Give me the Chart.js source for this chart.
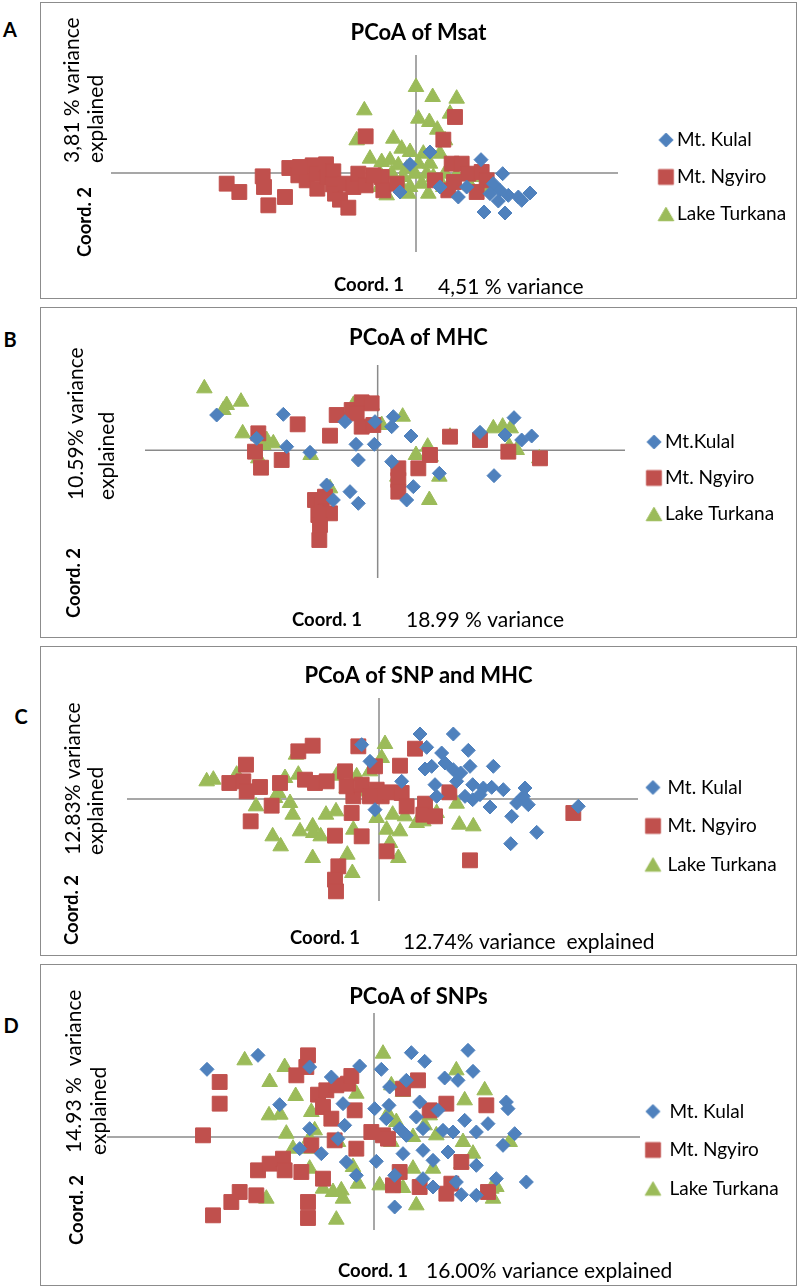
<!DOCTYPE html>
<html><head><meta charset="utf-8">
<script src="https://cdn.jsdelivr.net/npm/chart.js@4.4.1/dist/chart.umd.min.js"></script>
<style>
html,body{margin:0;padding:0;background:#fff;}
body{width:800px;height:1287px;position:relative;overflow:hidden;font-family:Lato,sans-serif;}
.frame{position:absolute;box-sizing:border-box;border:1px solid #8c8c8c;}
canvas{position:absolute;}
.letter{position:absolute;font:bold 20px Lato,sans-serif;color:#000;transform:translate(-50%,-50%);line-height:1;}
</style></head><body>
<script>
// ---------------- DATA ----------------
const panelLetters = ['A', 'B', 'C', 'D'];
const panelTitles = ['PCoA of Msat', 'PCoA of MHC', 'PCoA of SNP and MHC', 'PCoA of SNPs'];
const legendNames = [
  ['Mt. Kulal', 'Mt. Ngyiro', 'Lake Turkana'],
  ['Mt.Kulal', 'Mt. Ngyiro', 'Lake Turkana'],
  ['Mt. Kulal', 'Mt. Ngyiro', 'Lake Turkana'],
  ['Mt. Kulal', 'Mt. Ngyiro', 'Lake Turkana']
];
const yAxisTexts = [['3,81 % variance', 'explained'], ['10.59% variance', 'explained'], ['12.83% variance', 'explained'], ['14.93 %  variance', 'explained']];
const yAxisNames = ['Coord. 2', 'Coord. 2', 'Coord. 2', 'Coord. 2'];
const xAxisNames = ['Coord. 1', 'Coord. 1', 'Coord. 1', 'Coord. 1'];
const xAxisTexts = ['4,51 % variance', '18.99 % variance', '12.74% variance  explained', '16.00% variance explained'];

const xRanges = [[-9.15, 6.06], [-6.98, 7.42], [-7.56, 7.77], [-8.01, 7.98]];
const yRanges = [[-2.37, 3.54], [-3.83, 2.56], [-3.06, 3.03], [-2.79, 3.72]];

// Panel A : Msat
const msatKulal = [[1.95,0.40],[2.60,-0.02],[2.32,-0.32],[2.52,-0.52],[2.77,-0.67],[3.07,-0.72],[3.42,-0.60],[3.17,-0.82],[2.47,-0.84],[2.04,-1.17],[2.67,-1.20],[1.27,-0.72],[0.42,0.63],[-0.18,0.26],[1.52,-0.42],[2.22,-0.62],[-0.48,-0.57],[0.72,-0.42]];
const msatNgyiro = [[-5.68,-0.32],[-5.30,-0.57],[-4.60,-0.10],[-4.56,-0.42],[-4.43,-0.97],[-3.93,-0.72],[-3.80,0.15],[-3.53,-0.07],[-3.28,-0.22],[-3.10,0.23],[-2.98,-0.02],[-2.96,-0.47],[-2.70,0.26],[-2.66,-0.12],[-2.48,0.05],[-2.50,-0.34],[-2.43,-0.62],[-2.28,-0.80],[-2.03,-1.04],[-2.13,-0.32],[-1.88,-0.42],[-1.73,-0.02],[-1.51,-0.37],[-1.51,1.10],[-1.03,-0.12],[-0.98,-0.52],[-0.58,-0.32],[0.82,1.00],[1.17,1.68],[1.07,0.28],[1.37,0.28],[1.57,-0.02],[1.97,0.03],[2.12,-0.22],[1.82,-0.57],[0.97,-0.52],[0.57,-0.22],[-1.28,-0.07],[1.14,-0.27],[-3.48,0.18]];
const msatTurkana = [[0.00,2.58],[0.50,2.28],[1.22,2.23],[-1.55,1.88],[0.07,1.63],[0.40,1.53],[1.02,1.78],[0.64,1.30],[0.87,0.98],[-0.68,1.03],[-1.78,0.98],[-0.43,0.73],[-0.18,0.63],[0.22,0.58],[0.72,0.58],[-1.38,0.43],[-1.03,0.33],[-0.78,0.38],[-0.53,0.23],[-0.28,0.13],[0.07,0.28],[0.42,0.28],[-1.08,-0.02],[-0.73,-0.02],[-0.38,-0.12],[-0.03,-0.02],[0.32,-0.02],[-1.03,-0.32],[-0.48,-0.32],[-0.18,-0.42],[0.17,-0.32],[0.52,-0.12],[0.87,-0.02],[1.22,-0.07],[0.82,-0.42],[-0.88,-0.67],[-0.23,-0.62],[0.37,-0.62],[1.62,-0.37],[1.82,-0.12],[2.12,-0.42],[-1.08,-0.42]];

// Panel B : MHC
const mhcKulal = [[-4.83,1.06],[-2.83,1.08],[-3.63,0.36],[-2.73,0.11],[-2.03,-0.06],[-0.98,0.86],[-0.65,0.18],[-0.58,-0.29],[-0.10,0.18],[0.47,1.01],[0.42,0.71],[1.00,0.43],[0.42,-0.34],[1.07,-1.09],[0.87,-1.49],[1.85,-0.69],[3.07,0.54],[3.82,0.46],[4.09,0.98],[4.32,0.31],[4.62,0.43],[3.49,-0.76],[-1.53,-1.04],[-1.33,-1.49],[-0.83,-1.24],[-0.58,-1.59],[-0.08,0.86]];
const mhcNgyiro = [[-3.58,0.51],[-3.68,-0.04],[-3.50,-0.52],[-2.88,-0.29],[-2.40,0.78],[-1.43,0.44],[-1.23,1.06],[-0.78,1.21],[-0.48,1.44],[-0.18,1.41],[-0.48,0.71],[-0.13,0.76],[0.62,-0.54],[0.62,-0.89],[0.62,-1.24],[1.22,-0.54],[1.57,-0.14],[2.17,0.41],[3.07,0.31],[3.92,-0.04],[4.87,-0.24],[-1.88,-1.49],[-1.68,-1.64],[-1.43,-1.89],[-1.78,-1.94],[-1.73,-2.24],[-1.75,-2.69],[-1.58,-1.39],[-0.63,1.11]];
const mhcTurkana = [[-5.20,1.86],[-4.53,1.36],[-4.10,1.46],[-4.63,1.21],[-4.05,0.51],[-3.48,0.46],[-3.33,0.31],[-3.13,0.21],[-3.58,-0.24],[-3.43,0.16],[-2.01,-0.14],[-1.08,1.01],[-0.73,1.36],[-0.43,1.38],[-0.18,1.36],[-0.18,0.71],[0.12,0.76],[0.75,1.01],[1.15,-0.14],[1.50,0.11],[1.59,-0.19],[1.85,-0.79],[1.55,-1.49],[0.59,-0.79],[2.17,0.41],[3.47,0.66],[3.75,0.71],[3.99,0.66],[3.95,0.11],[4.17,0.01],[4.85,-0.24],[-1.43,-1.14],[-1.53,-1.24]];

// Panel C : SNP and MHC
const snpMhcKulal = [[1.23,1.95],[2.23,1.95],[1.43,1.55],[1.88,1.38],[2.68,1.46],[1.98,1.08],[1.38,0.90],[1.58,0.98],[2.23,0.88],[2.45,0.78],[2.73,0.98],[3.43,0.98],[1.68,0.43],[2.33,0.53],[2.81,0.43],[3.13,0.33],[3.38,0.35],[3.73,0.28],[4.38,0.33],[4.33,0.08],[4.13,-0.12],[4.48,-0.17],[3.98,-0.52],[3.33,-0.24],[2.81,-0.02],[2.58,0.08],[3.03,0.13],[4.73,-1.00],[3.95,-1.34],[5.98,-0.22],[0.68,0.53],[-0.12,-0.32],[-0.27,1.13],[-0.52,1.63],[1.73,0.08]];
const snpMhcNgyiro = [[-2.42,1.43],[-1.99,1.60],[-0.62,1.58],[1.08,1.51],[-3.99,1.03],[-4.49,0.48],[-4.07,0.53],[-3.97,0.23],[-3.57,0.36],[-2.97,0.48],[-3.22,-0.20],[-3.85,-0.67],[-2.22,0.58],[-1.92,0.48],[-1.57,0.53],[-1.02,0.83],[-0.77,0.08],[-0.82,-0.42],[-0.97,0.38],[-0.12,0.98],[0.63,1.00],[-0.07,0.28],[0.08,0.08],[0.33,0.20],[0.68,0.18],[0.83,-0.22],[1.38,-0.14],[1.33,-0.47],[1.68,-0.52],[2.11,0.20],[-1.32,-1.10],[-0.52,-1.12],[0.23,-1.57],[-1.22,-2.02],[-1.32,-2.42],[-1.29,-2.77],[2.73,-1.84],[5.83,-0.42],[-0.52,0.43],[-0.27,0.08]];
const snpMhcTurkana = [[-5.17,0.53],[-4.97,0.58],[-4.27,0.73],[-2.49,1.33],[0.18,1.65],[0.08,1.23],[-2.82,0.63],[-2.42,0.73],[-1.27,0.70],[-0.67,0.68],[-0.27,0.83],[-0.97,0.33],[-0.37,0.23],[-3.02,0.18],[-3.12,0.03],[-2.67,-0.12],[-2.59,-0.47],[-3.69,-0.22],[-1.59,-0.47],[-1.29,-0.37],[-2.37,-0.97],[-1.99,-0.82],[-1.97,-1.02],[-1.75,-1.12],[-3.19,-1.12],[-2.95,-1.42],[-0.77,-0.92],[-1.99,-1.77],[-0.95,-1.67],[-0.80,-2.22],[-0.07,-0.57],[0.41,-0.47],[0.78,-0.52],[1.13,-0.72],[1.33,-0.67],[1.73,-0.42],[2.33,-0.14],[2.41,-0.77],[2.83,-0.82],[0.23,-0.92],[0.63,-0.97],[0.33,-1.32],[0.58,-1.77]];

// Panel D : SNPs
const snpKulal = [[-5.01,2.03],[-3.48,2.45],[-1.93,2.10],[-1.28,1.80],[-0.43,2.13],[0.22,2.03],[1.12,2.53],[1.52,2.27],[2.82,2.60],[2.97,1.97],[2.12,1.77],[2.52,1.70],[0.97,1.70],[0.47,1.50],[1.37,1.05],[0.02,0.85],[0.45,0.95],[-2.83,0.97],[-0.93,1.00],[1.27,0.60],[1.92,0.80],[2.72,0.50],[3.42,0.40],[3.97,1.05],[4.02,0.85],[4.22,0.10],[3.07,0.15],[2.37,0.15],[2.07,0.20],[1.47,0.25],[0.97,0.05],[0.87,-0.50],[1.47,-0.40],[2.22,-0.45],[1.77,-0.70],[3.07,-0.85],[3.87,-0.25],[0.07,-0.73],[-0.88,0.35],[-0.83,-0.75],[-1.58,-0.50],[-1.93,0.25],[-2.23,-0.35],[-1.08,-0.05],[-0.53,-1.15],[1.77,-1.50],[2.47,-1.35],[2.62,-1.73],[3.07,-1.75],[3.67,-1.25],[4.57,-1.35],[0.62,-2.10],[0.62,-1.15],[1.47,-1.25],[0.37,0.55],[0.77,0.25]];
const snpNgyiro = [[-4.63,1.65],[-4.63,1.00],[-5.13,0.05],[-1.98,2.45],[-2.03,2.10],[-2.33,1.85],[-1.68,1.27],[-1.43,1.40],[-1.13,1.55],[-0.78,1.60],[-0.68,1.83],[-1.53,0.90],[-1.28,0.55],[-0.58,0.80],[-0.53,-0.35],[-1.18,-0.10],[-0.08,0.15],[0.27,0.05],[0.42,-0.05],[1.32,1.70],[0.87,1.45],[2.17,1.00],[1.67,0.80],[3.37,0.95],[-3.48,-1.00],[-3.13,-0.80],[-2.73,-0.65],[-2.68,-1.00],[-2.18,-1.05],[-1.53,-1.25],[-4.03,-1.65],[-4.28,-1.95],[-3.53,-1.75],[-4.83,-2.35],[-1.98,-1.95],[-1.98,-2.43],[0.77,-1.05],[0.57,-1.45],[1.37,-1.50],[2.32,-1.40],[2.17,-1.70],[3.42,-1.65],[2.62,-0.75],[-1.88,-0.25]];
const snpTurkana = [[-3.88,2.30],[-2.68,2.10],[-3.13,1.65],[-2.35,1.23],[-3.15,0.65],[-2.81,0.67],[-1.88,0.75],[-2.63,0.10],[-1.78,0.20],[-1.93,-0.05],[-1.98,-0.35],[-2.43,-0.35],[-1.08,-0.15],[-0.53,1.30],[0.27,2.50],[0.52,1.55],[0.87,1.35],[0.42,0.70],[0.67,0.45],[1.67,0.65],[1.52,0.35],[1.87,0.05],[1.17,0.00],[0.52,-0.15],[2.47,2.00],[2.72,1.10],[3.32,1.40],[2.67,-0.15],[2.97,-0.50],[2.62,-0.80],[1.17,-0.95],[1.77,-0.95],[4.07,-0.15],[-0.63,-0.90],[-1.93,-0.95],[-1.53,-1.55],[-1.23,-1.65],[-0.98,-1.60],[-0.93,-1.85],[-0.48,-1.40],[0.17,-1.45],[0.87,-1.53],[1.27,-2.05],[-1.13,-2.48],[-3.23,-1.85],[3.52,-1.55],[3.67,-1.50],[3.57,-1.85]];

const panelSeries = [
  [msatKulal, msatNgyiro, msatTurkana],
  [mhcKulal, mhcNgyiro, mhcTurkana],
  [snpMhcKulal, snpMhcNgyiro, snpMhcTurkana],
  [snpKulal, snpNgyiro, snpTurkana]
];

// ---------------- STYLE / LAYOUT ----------------
const COLORS = ['#4F81BD', '#C0504D', '#9BBB59'];
const STYLES = ['rectRot', 'rect', 'triangle'];
const RADII = [7, 10.5, 9];
const FONT = 'Lato, sans-serif';
const LEG_FS = 19;
const FRAME_L = 40, FRAME_W = 757;

const LAYOUT = [
  {top: 2, h: 297, area: {l: 111, r: 618, t: 55, b: 252}, titleY: 33, legRow: 37, legText: 677, legMarker: 666, legMid: 177,
   yLines: [{x: 72, y: 163}, {x: 96, y: 163}], coord2: {x: 85, y: 257}, coord1: {x: 334, y: 285}, xText: {x: 438, y: 287}, letter: {x: 10, y: 29}},
  {top: 307, h: 331, area: {l: 145, r: 625, t: 365, b: 578}, titleY: 338, legRow: 36, legText: 665, legMarker: 654, legMid: 478,
   yLines: [{x: 76, y: 500}, {x: 107, y: 500}], coord2: {x: 74, y: 618}, coord1: {x: 292, y: 620}, xText: {x: 406, y: 620}, letter: {x: 10, y: 339}},
  {top: 646, h: 310, area: {l: 127, r: 638, t: 698, b: 901}, titleY: 676, legRow: 38.5, legText: 663, legMarker: 653, legMid: 826,
   yLines: [{x: 73, y: 855}, {x: 96, y: 855}], coord2: {x: 72, y: 945}, coord1: {x: 290, y: 938}, xText: {x: 403, y: 942}, letter: {x: 21, y: 716}},
  {top: 964, h: 322, area: {l: 107, r: 640, t: 1013, b: 1230}, titleY: 997, legRow: 38.5, legText: 663, legMarker: 653, legMid: 1150,
   yLines: [{x: 74, y: 1153}, {x: 99, y: 1155}], coord2: {x: 77, y: 1245}, coord1: {x: 338, y: 1271}, xText: {x: 426, y: 1271}, letter: {x: 11, y: 1025}}
];

Chart.defaults.font.family = FONT;
Chart.defaults.color = '#000';

const measureCtx = document.createElement('canvas').getContext('2d');

function markerImage(style, radius, color, dx) {
  const w = Math.ceil(2 * (Math.abs(dx) + radius + 2));
  const h = Math.ceil(2 * radius + 4);
  const c = document.createElement('canvas');
  c.width = w; c.height = h;
  const g = c.getContext('2d');
  g.fillStyle = color; g.strokeStyle = color; g.lineWidth = 1;
  const cy = h / 2 + (style === 'triangle' ? radius / 4 : 0);
  Chart.helpers.drawPoint(g, {pointStyle: style, radius: radius, rotation: 0, borderWidth: 1}, w / 2 + dx, cy);
  return c;
}

const crossPlugin = {
  id: 'crossAxes',
  beforeDatasetsDraw(chart) {
    const {ctx, chartArea: a, scales: {x, y}} = chart;
    const px = x.getPixelForValue(0), py = y.getPixelForValue(0);
    ctx.save();
    ctx.strokeStyle = '#8a8a8a';
    ctx.lineWidth = 1.5;
    ctx.beginPath();
    ctx.moveTo(a.left, py); ctx.lineTo(a.right, py);
    ctx.moveTo(px, a.top); ctx.lineTo(px, a.bottom);
    ctx.stroke();
    ctx.restore();
  }
};

const textPlugin = {
  id: 'axisTexts',
  afterDraw(chart, args, opts) {
    const ctx = chart.ctx;
    const ox = opts.ox, oy = opts.oy;
    ctx.save();
    ctx.fillStyle = '#000';
    ctx.textBaseline = 'middle';
    ctx.textAlign = 'left';
    const rot = (txt, p, font) => {
      ctx.save();
      ctx.translate(p.x - ox, p.y - oy);
      ctx.rotate(-Math.PI / 2);
      ctx.font = font;
      ctx.fillText(txt, 0, 0);
      ctx.restore();
    };
    opts.yTexts.forEach((t, i) => rot(t, opts.yLines[i], '21px ' + FONT));
    rot(opts.yName, opts.coord2, 'bold 18.5px ' + FONT);
    ctx.font = 'bold 18.5px ' + FONT;
    ctx.fillText(opts.xName, opts.coord1.x - ox, opts.coord1.y - oy);
    ctx.font = '21px ' + FONT;
    ctx.fillText(opts.xText, opts.xTextPos.x - ox, opts.xTextPos.y - oy);
    ctx.restore();
  }
};

LAYOUT.forEach((L, i) => {
  const frame = document.createElement('div');
  frame.className = 'frame';
  Object.assign(frame.style, {left: FRAME_L + 'px', top: L.top + 'px', width: FRAME_W + 'px', height: L.h + 'px'});
  document.body.appendChild(frame);

  const letter = document.createElement('div');
  letter.className = 'letter';
  letter.textContent = panelLetters[i];
  Object.assign(letter.style, {left: L.letter.x + 'px', top: L.letter.y + 'px'});
  document.body.appendChild(letter);

  const cv = document.createElement('canvas');
  cv.width = FRAME_W; cv.height = L.h;
  Object.assign(cv.style, {left: FRAME_L + 'px', top: L.top + 'px', width: FRAME_W + 'px', height: L.h + 'px'});
  document.body.appendChild(cv);

  // legend geometry
  const half = LEG_FS / 2;
  const pad = L.legRow - LEG_FS;
  const legLeft = L.area.r;
  const bw = Math.max(0.5, L.legText - legLeft - pad - half);
  const cx = legLeft + pad + bw / 2;
  const dx = L.legMarker - cx;
  const T = Math.max(1, 2 * (L.legMid - (L.top + L.h / 2)));
  measureCtx.font = 'normal ' + LEG_FS + 'px ' + FONT;
  const maxTextW = Math.max(...legendNames[i].map(t => measureCtx.measureText(t).width));
  const legendW = pad + bw + half + maxTextW + 10;

  // chart-area geometry
  const titleLH = 22 * 1.2;
  const titlePadTop = (L.titleY - L.top) - titleLH / 2;
  const titlePadBottom = (L.area.t - L.top) - titlePadTop - titleLH;
  const G = {};
  G.padSide = Math.max(0, FRAME_W - (L.area.r - FRAME_L) - legendW);
  G.yAxisW = (L.area.l - FRAME_L) - G.padSide;
  G.xAxisH = (L.top + L.h) - L.area.b;

  const imgs = COLORS.map((c, k) => markerImage(STYLES[k], RADII[k], c, dx));

  const chart = new Chart(cv, {
    type: 'scatter',
    data: {
      datasets: panelSeries[i].map((pts, k) => ({
        label: legendNames[i][k],
        data: pts.map(p => ({x: p[0], y: p[1]})),
        pointStyle: STYLES[k],
        pointRadius: RADII[k],
        pointHoverRadius: RADII[k],
        backgroundColor: COLORS[k],
        borderColor: COLORS[k],
        pointBorderWidth: 1
      }))
    },
    options: {
      responsive: false,
      animation: false,
      events: [],
      layout: {padding: {left: G.padSide, right: G.padSide, top: 0, bottom: 0}},
      scales: {
        x: {type: 'linear', min: xRanges[i][0], max: xRanges[i][1], display: true,
            grid: {display: false}, border: {display: false}, ticks: {display: false},
            afterFit: s => { s.height = G.xAxisH; }},
        y: {type: 'linear', min: yRanges[i][0], max: yRanges[i][1], display: true,
            grid: {display: false}, border: {display: false}, ticks: {display: false},
            afterFit: s => { s.width = G.yAxisW; }}
      },
      plugins: {
        title: {display: true, text: panelTitles[i], color: '#000',
                font: {size: 22, weight: 'bold', family: FONT, lineHeight: 1.2},
                padding: {top: titlePadTop, bottom: titlePadBottom}},
        legend: {
          display: true, position: 'right', align: 'center', maxWidth: 400,
          title: {display: true, text: '', font: {size: 1, lineHeight: 1}, padding: {top: 0, bottom: T - 1}},
          labels: {
            usePointStyle: true, pointStyleWidth: bw, padding: pad, color: '#000',
            font: {size: LEG_FS, family: FONT},
            generateLabels(ch) {
              const items = Chart.defaults.plugins.legend.labels.generateLabels(ch);
              items.forEach((it, k) => { it.pointStyle = imgs[k]; });
              return items;
            }
          }
        },
        tooltip: {enabled: false},
        axisTexts: {
          ox: FRAME_L, oy: L.top,
          yTexts: yAxisTexts[i], yLines: L.yLines,
          yName: yAxisNames[i], coord2: L.coord2,
          xName: xAxisNames[i], coord1: L.coord1,
          xText: xAxisTexts[i], xTextPos: L.xText
        }
      }
    },
    plugins: [crossPlugin, textPlugin]
  });

  // one correction pass so the plot area lands exactly on the target box
  const dr = chart.chartArea.right - (L.area.r - FRAME_L);
  if (Math.abs(dr) > 0.25) {
    G.padSide = Math.max(0, G.padSide + dr);
    G.yAxisW = (L.area.l - FRAME_L) - G.padSide;
    chart.options.layout.padding = {left: G.padSide, right: G.padSide, top: 0, bottom: 0};
    chart.update();
  }
});
</script>
</body></html>
